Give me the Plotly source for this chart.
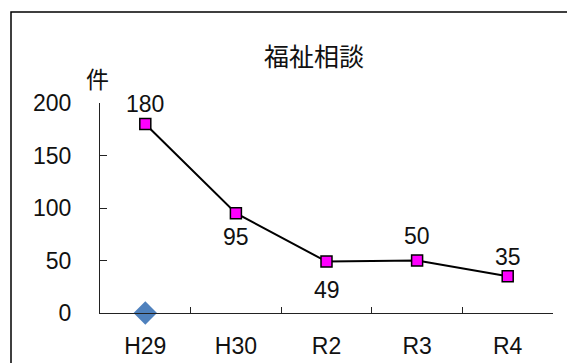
import plotly.graph_objects as go

categories = ["H29", "H30", "R2", "R3", "R4"]
consult_values = [180, 95, 49, 50, 35]
other_values = [0, None, None, None, None]
y_ticks = [0, 50, 100, 150, 200]

# vertical pixel offsets of the data labels (style only)
label_shift = [20, -24, -28, 25, 19]

W, H = 567, 363
L, R, T, B = 100, 14, 103, 50
pw, ph = W - L - R, H - T - B

def px_x(x):
    return (x - L) / pw

def px_y(y):
    return 1 - (y - T) / ph

fig = go.Figure()
fig.add_trace(go.Scatter(
    x=categories, y=consult_values, mode="lines+markers",
    line=dict(color="black", width=2),
    marker=dict(symbol="square", size=11, color="#FF00FF", line=dict(color="black", width=1.5)),
    cliponaxis=False, showlegend=False, hoverinfo="skip",
))
fig.add_trace(go.Scatter(
    x=categories, y=other_values, mode="markers",
    marker=dict(symbol="diamond", size=18, color="#4F81BD"),
    cliponaxis=False, showlegend=False, hoverinfo="skip",
))

annotations = [
    dict(x=c, y=v, xref="x", yref="y", text=str(v), showarrow=False,
         xanchor="center", yanchor="middle", yshift=s,
         font=dict(family="Liberation Sans, Arial, sans-serif", size=23, color="#111"))
    for c, v, s in zip(categories, consult_values, label_shift)
]
annotations += [
    dict(text="福祉相談", xref="paper", yref="paper", x=px_x(314), y=px_y(55),
         xanchor="center", yanchor="middle", showarrow=False,
         font=dict(family="Noto Sans CJK JP", size=25, color="#111")),
    dict(text="件", xref="paper", yref="paper", x=px_x(97), y=px_y(78),
         xanchor="center", yanchor="middle", showarrow=False,
         font=dict(family="Noto Sans CJK JP", size=23, color="#111")),
]

fig.update_layout(
    width=W, height=H,
    margin=dict(l=L, r=R, t=T, b=B, pad=0),
    paper_bgcolor="white", plot_bgcolor="white",
    font=dict(family="Liberation Sans, Arial, Noto Sans CJK JP, sans-serif", size=23, color="#111"),
    xaxis=dict(
        type="category", range=[-0.5, len(categories) - 0.5],
        showline=True, linecolor="#222", linewidth=1.3,
        ticks="inside", tickson="boundaries", ticklen=6, tickcolor="#222",
        showgrid=False, zeroline=False, ticklabelstandoff=12, automargin=False,
        tickfont=dict(size=23),
    ),
    yaxis=dict(
        range=[0, 200], tickvals=y_ticks, showline=True, linecolor="#222", linewidth=1.3,
        ticks="inside", ticklen=7, tickcolor="#222", showgrid=False, zeroline=False,
        ticklabelstandoff=23, automargin=False, tickfont=dict(size=23),
    ),
    shapes=[dict(
        type="rect", xref="paper", yref="paper",
        x0=px_x(11), y0=px_y(400), x1=px_x(620), y1=px_y(12),
        line=dict(color="black", width=1.5), fillcolor="rgba(0,0,0,0)", layer="above",
    )],
    annotations=annotations,
)

fig.write_html(
    "out.html",
    config={"displayModeBar": False},
    post_script="document.body.style.margin='0';document.body.style.overflow='hidden';",
)
